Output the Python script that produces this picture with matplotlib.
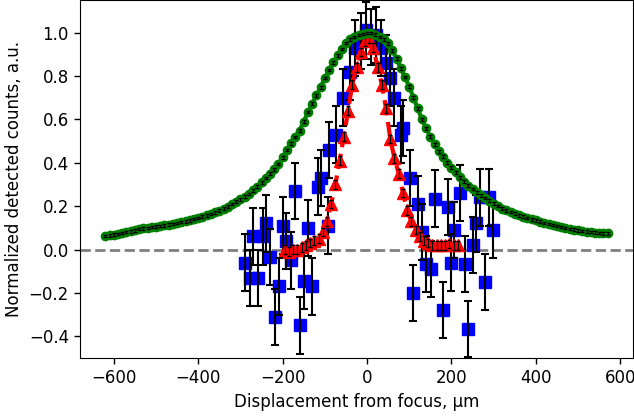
import matplotlib
matplotlib.use('Agg')
import matplotlib.pyplot as plt

plt.rcParams['font.family'] = 'DejaVu Sans'
plt.rcParams['font.size'] = 12

# Широкий пучок (зелёный)
green_x = list(range(-620, 571, 10))
green_y = [0.062, 0.065, 0.068, 0.072, 0.076, 0.080, 0.084, 0.089, 0.094, 0.097,
           0.100, 0.103, 0.106, 0.109, 0.112, 0.115, 0.118, 0.122, 0.126, 0.130,
           0.135, 0.140, 0.145, 0.151, 0.157, 0.164, 0.171, 0.179, 0.188, 0.198,
           0.209, 0.220, 0.231, 0.243, 0.256, 0.272, 0.290, 0.310, 0.330, 0.350,
           0.370, 0.395, 0.425, 0.458, 0.490, 0.518, 0.548, 0.590, 0.633, 0.672,
           0.710, 0.748, 0.790, 0.828, 0.862, 0.895, 0.925, 0.952, 0.968, 0.980,
           0.988, 0.993, 0.998, 0.998, 0.990, 0.980, 0.968, 0.950, 0.918, 0.880,
           0.835, 0.795, 0.750, 0.700, 0.650, 0.600, 0.558, 0.520, 0.485, 0.452,
           0.428, 0.400, 0.378, 0.355, 0.332, 0.313, 0.295, 0.279, 0.263, 0.250,
           0.238, 0.225, 0.212, 0.200, 0.189, 0.180, 0.172, 0.165, 0.158, 0.151,
           0.145, 0.139, 0.134, 0.128, 0.123, 0.118, 0.113, 0.108, 0.103, 0.099,
           0.095, 0.091, 0.088, 0.085, 0.082, 0.080, 0.078, 0.076, 0.075, 0.074]
green_err = 0.006

# Узкий пучок (красный)
red_x = [-195, -185, -175, -165, -155, -145, -135, -125, -115, -105, -95, -85, -75, -65,
         -55, -45, -35, -25, -15, -5, 5, 15, 25, 35, 45, 55, 65, 75, 85, 95, 105, 115,
         125, 135, 145, 155, 165, 175, 185, 195, 205, 215]
red_y = [0.00, -0.01, 0.00, 0.00, 0.01, 0.02, 0.03, 0.04, 0.05, 0.08, 0.13, 0.21, 0.30, 0.41,
         0.52, 0.64, 0.76, 0.84, 0.91, 0.96, 0.97, 0.93, 0.84, 0.76, 0.65, 0.51, 0.42, 0.35,
         0.26, 0.18, 0.13, 0.09, 0.06, 0.04, 0.03, 0.02, 0.02, 0.02, 0.02, 0.025, 0.02, 0.02]
red_err = 0.02

# Шумные данные (синие)
blue_x = [-290, -278, -270, -258, -247, -239, -229, -219, -209, -199, -191, -181, -170,
          -160, -150, -140, -130, -116, -108, -93, -89, -73, -57, -41, -29, -15, -2, 10,
          22, 34, 46, 54, 65, 81, 85, 101, 109, 121, 129, 140, 152, 160, 180, 192, 200,
          207, 219, 231, 239, 251, 259, 267, 279, 290, 298]
blue_y = [-0.06, -0.13, 0.06, -0.13, 0.06, 0.12, -0.035, -0.31, -0.17, 0.11, 0.04, -0.05, 0.27,
          -0.35, -0.146, 0.10, -0.17, 0.29, 0.33, 0.11, 0.46, 0.53, 0.70, 0.82, 0.93, 0.96, 1.01,
          0.98, 0.99, 0.93, 0.86, 0.79, 0.70, 0.53, 0.56, 0.33, -0.20, 0.21, 0.08, -0.066, -0.09,
          0.235, -0.28, 0.195, -0.06, 0.09, 0.26, -0.066, -0.365, 0.02, 0.12, 0.24, -0.15, 0.24,
          0.09]
blue_err = 0.13

fig = plt.figure(figsize=(6.34, 4.2), dpi=100)
ax = fig.add_axes([80 / 634, 62 / 420, 553 / 634, 358 / 420])

ax.axhline(0, color='gray', linestyle='--', linewidth=2, zorder=1)

# Синие квадраты
ax.plot(blue_x, blue_y, 's', color='blue', markersize=9, zorder=2)
ax.errorbar(blue_x, blue_y, yerr=blue_err, fmt='none', ecolor='black',
            elinewidth=1.5, capsize=3, capthick=1.5, zorder=2.5)

# Красные треугольники
ax.plot(red_x, red_y, '^--', color='red', markersize=8.5, linewidth=3, zorder=3)
ax.errorbar(red_x, red_y, yerr=red_err, fmt='none', ecolor='black',
            elinewidth=0.8, capsize=1.5, zorder=3.5)

# Зелёные точки
ax.plot(green_x, green_y, 'o-', color='green', markersize=6, linewidth=3, zorder=4)
ax.errorbar(green_x, green_y, yerr=green_err, fmt='none', ecolor='black',
            elinewidth=0.8, capsize=1.5, zorder=4.5)

ax.set_xlim(-680, 630)
ax.set_ylim(-0.50, 1.15)
ax.tick_params(length=4.5, width=1)
ax.set_xlabel('Displacement from focus, µm')
ax.set_ylabel('Normalized detected counts, a.u.')

plt.savefig('out.png', dpi=100)
